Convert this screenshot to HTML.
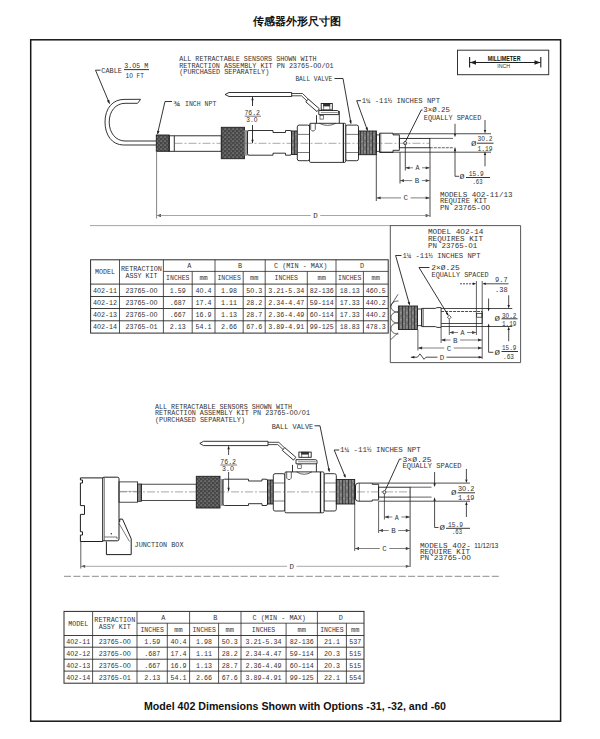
<!DOCTYPE html>
<html><head><meta charset="utf-8"><style>
html,body{margin:0;padding:0;background:#fff;width:600px;height:739px;overflow:hidden}
svg{display:block}
</style></head><body>
<svg width="600" height="739" viewBox="0 0 600 739" font-family="Liberation Sans" shape-rendering="geometricPrecision">
<defs>
<pattern id="kn" width="4" height="4" patternUnits="userSpaceOnUse"><rect width="4" height="4" fill="#454545"/><rect x="0.5" y="0.5" width="1.2" height="1.2" fill="#a0a0a0"/><rect x="2.5" y="2.5" width="1.2" height="1.2" fill="#8a8a8a"/><rect x="2.5" y="0.5" width="1" height="1" fill="#5a5a5a"/></pattern>
<pattern id="th" width="6" height="7" patternUnits="userSpaceOnUse"><rect width="6" height="7" fill="#7c7c7c"/><rect x="0" width="1.1" height="7" fill="#3a3a3a"/><rect x="3" width="0.8" height="7" fill="#484848"/><rect x="1.6" y="1" width="0.8" height="1.2" fill="#b0b0b0"/><rect x="4.4" y="4" width="0.8" height="1.4" fill="#a8a8a8"/><rect x="4.8" y="0" width="0.6" height="2" fill="#505050"/></pattern>
</defs>
<text x="296.7" y="24.6" font-size="11.2" font-weight="bold" text-anchor="middle" fill="#111" font-family="Liberation Serif">传感器外形尺寸图</text>
<rect x="30.7" y="39.8" width="529.9" height="681.4" fill="none" stroke="#161616" stroke-width="1.5"/>
<rect x="457.5" y="50.2" width="91.2" height="24.5" fill="none" stroke="#333" stroke-width="1.0"/>
<line x1="469.6" y1="57" x2="469.6" y2="67.5" stroke="#1e1e1e" stroke-width="1.1" />
<line x1="540.8" y1="57" x2="540.8" y2="67.5" stroke="#1e1e1e" stroke-width="1.1" />
<line x1="470" y1="62.5" x2="540.5" y2="62.5" stroke="#1e1e1e" stroke-width="1.0" />
<polygon points="470,62.5 476.0,60.3 476.0,64.7" fill="#1e1e1e" stroke="none" stroke-width="0.9"/>
<polygon points="540.5,62.5 534.5,64.7 534.5,60.3" fill="#1e1e1e" stroke="none" stroke-width="0.9"/>
<text x="487.8" y="60.50" font-size="6.36" fill="#111" font-family="Liberation Sans" font-weight="bold" textLength="32.70" lengthAdjust="spacingAndGlyphs">MILLIMETER</text>
<text x="497.2" y="67.80" font-size="6.06" fill="#333" font-family="Liberation Sans" font-weight="normal" textLength="12.80" lengthAdjust="spacingAndGlyphs">INCH</text>
<text x="144" y="710" font-size="10.62" font-weight="bold" fill="#111" font-family="Liberation Sans" textLength="302" lengthAdjust="spacingAndGlyphs">Model 402 Dimensions Shown with Options -31, -32, and -60</text>
<text x="179.2" y="61.20" font-size="7.58" fill="#333" font-family="Liberation Mono" font-weight="normal" textLength="137.40" lengthAdjust="spacingAndGlyphs">ALL RETRACTABLE SENSORS SHOWN WITH</text>
<text x="179.2" y="67.70" font-size="7.58" fill="#333" font-family="Liberation Mono" font-weight="normal" textLength="154.40" lengthAdjust="spacingAndGlyphs">RETRACTION ASSEMBLY KIT PN 23765-OO/O1</text>
<text x="179.2" y="74.40" font-size="7.58" fill="#333" font-family="Liberation Mono" font-weight="normal" textLength="90.10" lengthAdjust="spacingAndGlyphs">(PURCHASED SEPARATELY)</text>
<text x="295.4" y="81.40" font-size="7.58" fill="#333" font-family="Liberation Mono" font-weight="normal" textLength="36.80" lengthAdjust="spacingAndGlyphs">BALL VALVE</text>
<polyline points="334.5,78.5 343,78.5 351,123.5" fill="none" stroke="#1e1e1e" stroke-width="0.9" />
<polygon points="351,124 349.2,120.77 351.56,120.34" fill="#1e1e1e" stroke="none" stroke-width="0.9"/>
<text x="101.3" y="73.30" font-size="7.58" fill="#333" font-family="Liberation Mono" font-weight="normal" textLength="20.70" lengthAdjust="spacingAndGlyphs">CABLE</text>
<text x="124.3" y="68.10" font-size="7.58" fill="#333" font-family="Liberation Mono" font-weight="normal" textLength="24.00" lengthAdjust="spacingAndGlyphs">3.O5 M</text>
<line x1="124" y1="69.6" x2="149" y2="69.6" stroke="#1e1e1e" stroke-width="0.9" />
<text x="125.5" y="78.40" font-size="7.58" fill="#333" font-family="Liberation Mono" font-weight="normal" textLength="18.30" lengthAdjust="spacingAndGlyphs">1O FT</text>
<polyline points="100.5,70.2 95.5,70.2 109.5,103.5" fill="none" stroke="#1e1e1e" stroke-width="0.9" />
<polygon points="109.6,104 106.91,100.77 109.32,99.8" fill="#1e1e1e" stroke="none" stroke-width="0.9"/>
<path d="M156.5,145 L123.5,145 C112,145 105,135 105,122 C105,108 113,99.4 124,99.4 L140.5,99.3 L139,101.5 L137.5,103.3 L125,103.3 C116,103.3 109.2,111 109.2,122 C109.2,133 116,141 125,141 L156.5,141" fill="none" stroke="#1e1e1e" stroke-width="0.9" />
<text x="173.8" y="105.50" font-size="7.58" fill="#333" font-family="Liberation Mono" font-weight="normal" textLength="6.20" lengthAdjust="spacingAndGlyphs">¾</text>
<text x="185" y="105.50" font-size="7.58" fill="#333" font-family="Liberation Mono" font-weight="normal" textLength="31.30" lengthAdjust="spacingAndGlyphs">INCH NPT</text>
<polyline points="172,101.5 165,101.5 157.5,133.8" fill="none" stroke="#1e1e1e" stroke-width="0.9" />
<polygon points="157.6,134.5 157.22,130.82 159.55,131.36" fill="#1e1e1e" stroke="none" stroke-width="0.9"/>
<rect x="156.3" y="135" width="12.9" height="16.3" fill="url(#kn)" stroke="#1e1e1e" stroke-width="0.9"/>
<rect x="169.2" y="135.8" width="52.1" height="15.5" fill="none" stroke="#1e1e1e" stroke-width="0.9"/>
<line x1="174.3" y1="135.8" x2="174.3" y2="151.3" stroke="#1e1e1e" stroke-width="0.9" />
<rect x="221.3" y="127.3" width="23.2" height="31.4" fill="url(#kn)" stroke="#1e1e1e" stroke-width="0.9"/>
<rect x="244.5" y="130.5" width="3.0" height="24.7" fill="#9a9a9a" stroke="#777" stroke-width="0.5"/>
<path d="M247.5,132 Q247.5,130.5 249,130.5 L273,130.5 L273,132.5 L285.5,132.5 L285.5,130.5 L290,130.5 Q291.5,130.5 291.5,132 L291.5,153.7 Q291.5,155.2 290,155.2 L285.5,155.2 L285.5,153.2 L273,153.2 L273,155.2 L249,155.2 Q247.5,155.2 247.5,153.7 Z" fill="none" stroke="#1e1e1e" stroke-width="0.9" />
<rect x="291.5" y="131" width="6.3" height="23.5" fill="url(#th)" stroke="#1e1e1e" stroke-width="0.9"/>
<rect x="297.3" y="125.1" width="12.20" height="35.60" rx="1.8" fill="#fff" stroke="#1e1e1e" stroke-width="0.9"/>
<rect x="345.7" y="125.1" width="12.80" height="35.60" rx="1.8" fill="#fff" stroke="#1e1e1e" stroke-width="0.9"/>
<line x1="297.8" y1="134.4" x2="309.5" y2="134.4" stroke="#1e1e1e" stroke-width="0.6" />
<line x1="297.8" y1="152.5" x2="309.5" y2="152.5" stroke="#1e1e1e" stroke-width="0.6" />
<line x1="345.7" y1="134.4" x2="358.0" y2="134.4" stroke="#1e1e1e" stroke-width="0.6" />
<line x1="345.7" y1="152.5" x2="358.0" y2="152.5" stroke="#1e1e1e" stroke-width="0.6" />
<rect x="309.5" y="123.3" width="36.20" height="39.10" rx="1.2" fill="#fff" stroke="#1e1e1e" stroke-width="0.9"/>
<line x1="343.4" y1="123.3" x2="343.4" y2="162.4" stroke="#1e1e1e" stroke-width="1.3" />
<path d="M310.7,123.3 L310.7,129.5 Q313.0,132.7 315.3,129.5 L315.3,123.3" fill="none" stroke="#1e1e1e" stroke-width="0.7" />
<path d="M319.4,123.3 Q327.6,127.5 335.8,123.3" fill="none" stroke="#1e1e1e" stroke-width="0.7" />
<line x1="316.5" y1="115.2" x2="316.5" y2="123.3" stroke="#1e1e1e" stroke-width="0.9" />
<line x1="339.3" y1="111" x2="339.3" y2="123.3" stroke="#1e1e1e" stroke-width="0.9" />
<path d="M318.8,114.6 L318.8,110.5 L337.2,110.5 Q338.7,110.5 338.7,112.0 L338.7,114.6 Z" fill="none" stroke="#1e1e1e" stroke-width="0.9" />
<line x1="320.8" y1="112.55" x2="337.7" y2="112.55" stroke="#1e1e1e" stroke-width="0.5" />
<rect x="321.2" y="103.5" width="11.1" height="6.4" fill="none" stroke="#1e1e1e" stroke-width="0.9"/>
<line x1="323.6666666666667" y1="103.5" x2="323.6666666666667" y2="109.9" stroke="#1e1e1e" stroke-width="0.6" />
<line x1="329.8333333333333" y1="103.5" x2="329.8333333333333" y2="109.9" stroke="#1e1e1e" stroke-width="0.6" />
<rect x="323.6666666666667" y="103.5" width="6.17" height="2.56" fill="#333" stroke="#1e1e1e" stroke-width="0.5"/>
<rect x="320.0" y="115.6" width="3.5" height="3.5" fill="none" stroke="#1e1e1e" stroke-width="0.6"/>
<rect x="358.5" y="131" width="17.9" height="23.7" fill="url(#th)" stroke="#1e1e1e" stroke-width="0.9"/>
<rect x="376.4" y="134.9" width="3.2" height="16.4" fill="none" stroke="#1e1e1e" stroke-width="0.8"/>
<path d="M379.6,152.4 L379.6,133.2 L393,133.2 L393,134.9 L399.4,134.9 L399.4,150.3 L393,150.3 L393,152.4 Z" fill="none" stroke="#1e1e1e" stroke-width="0.9" />
<line x1="380.8" y1="133.2" x2="380.8" y2="152.4" stroke="#1e1e1e" stroke-width="0.6" />
<rect x="399.4" y="138.4" width="30.4" height="9.35" fill="none" stroke="#1e1e1e" stroke-width="0.9"/>
<line x1="393" y1="133.75" x2="491" y2="133.75" stroke="#1e1e1e" stroke-width="0.8" />
<line x1="379.6" y1="152.2" x2="491" y2="152.2" stroke="#1e1e1e" stroke-width="0.8" />
<line x1="429.8" y1="138.4" x2="453" y2="138.4" stroke="#1e1e1e" stroke-width="0.7" />
<line x1="429.8" y1="147.75" x2="453" y2="147.75" stroke="#1e1e1e" stroke-width="0.7" stroke-dasharray="3,1"/>
<circle cx="405.2" cy="143.1" r="1.6" fill="none" stroke="#1e1e1e" stroke-width="0.8"/>
<line x1="174.5" y1="143.3" x2="429.8" y2="143.3" stroke="#555" stroke-width="0.5" stroke-dasharray="8,2,2,2"/>
<path d="M225,94.5 L229,92.5 L291.7,92.5 L291.7,96.5 L229,96.5 Z" fill="none" stroke="#1e1e1e" stroke-width="0.9" />
<polyline points="291.5,93.5 302.5,93.5 318.5,109" fill="none" stroke="#1e1e1e" stroke-width="0.8" />
<polyline points="291.5,95.8 301.5,95.8 317,110.5" fill="none" stroke="#1e1e1e" stroke-width="0.8" />
<path d="M305.8,101.9 L308.2,99.1 L319.4,108.8 L317,111.6 Z" fill="#fff" stroke="#1e1e1e" stroke-width="0.9" />
<line x1="252.5" y1="97" x2="252.5" y2="106" stroke="#1e1e1e" stroke-width="0.9" />
<polygon points="252.5,96.8 253.7,100.3 251.3,100.3" fill="#1e1e1e" stroke="none" stroke-width="0.9"/>
<text x="244.5" y="114.50" font-size="6.82" fill="#333" font-family="Liberation Mono" font-weight="normal" textLength="15.50" lengthAdjust="spacingAndGlyphs">76.2</text>
<line x1="244.7" y1="116.2" x2="261" y2="116.2" stroke="#444" stroke-width="0.7" />
<text x="246.3" y="121.75" font-size="6.82" fill="#333" font-family="Liberation Mono" font-weight="normal" textLength="11.20" lengthAdjust="spacingAndGlyphs">3.O</text>
<line x1="252.5" y1="125" x2="252.5" y2="143" stroke="#1e1e1e" stroke-width="0.9" />
<polygon points="252.5,143.3 251.3,139.8 253.7,139.8" fill="#1e1e1e" stroke="none" stroke-width="0.9"/>
<text x="361.7" y="103.20" font-size="7.58" fill="#333" font-family="Liberation Mono" font-weight="normal" textLength="78.30" lengthAdjust="spacingAndGlyphs">1¼ -11½ INCHES NPT</text>
<polyline points="361,100.7 356.7,100.7 367.5,130.5" fill="none" stroke="#1e1e1e" stroke-width="0.9" />
<polygon points="367.6,131 365.5,127.95 367.81,127.31" fill="#1e1e1e" stroke="none" stroke-width="0.9"/>
<text x="423.3" y="112.20" font-size="7.58" fill="#333" font-family="Liberation Mono" font-weight="normal" textLength="26.70" lengthAdjust="spacingAndGlyphs">3×Ø.25</text>
<text x="423.8" y="119.50" font-size="7.58" fill="#333" font-family="Liberation Mono" font-weight="normal" textLength="57.50" lengthAdjust="spacingAndGlyphs">EQUALLY SPACED</text>
<polyline points="422.5,110 421.3,110 405.5,141.5" fill="none" stroke="#1e1e1e" stroke-width="0.9" />
<line x1="400" y1="152.2" x2="400" y2="183.5" stroke="#1e1e1e" stroke-width="0.8" />
<line x1="405.3" y1="144.7" x2="405.3" y2="170.5" stroke="#1e1e1e" stroke-width="0.8" />
<line x1="430" y1="147.75" x2="430" y2="217" stroke="#1e1e1e" stroke-width="0.8" />
<line x1="376.3" y1="155" x2="376.3" y2="201" stroke="#1e1e1e" stroke-width="0.8" />
<line x1="156.6" y1="151.3" x2="156.6" y2="218.5" stroke="#666" stroke-width="0.8" />
<polygon points="405.5,167.8 409.5,166.4 409.5,169.2" fill="#1e1e1e" stroke="none" stroke-width="0.9"/>
<polygon points="429.7,167.8 425.7,169.2 425.7,166.4" fill="#1e1e1e" stroke="none" stroke-width="0.9"/>
<line x1="405.5" y1="167.8" x2="413.0" y2="167.8" stroke="#555" stroke-width="0.75" />
<line x1="422.0" y1="167.8" x2="429.7" y2="167.8" stroke="#555" stroke-width="0.75" />
<text x="415.5" y="170.30" font-size="7.58" fill="#333" font-family="Liberation Mono" font-weight="normal" textLength="4.00" lengthAdjust="spacingAndGlyphs">A</text>
<polygon points="400,180.6 404.0,179.2 404.0,182.0" fill="#1e1e1e" stroke="none" stroke-width="0.9"/>
<polygon points="429.7,180.6 425.7,182.0 425.7,179.2" fill="#1e1e1e" stroke="none" stroke-width="0.9"/>
<line x1="400" y1="180.6" x2="412.25" y2="180.6" stroke="#555" stroke-width="0.75" />
<line x1="421.75" y1="180.6" x2="429.7" y2="180.6" stroke="#555" stroke-width="0.75" />
<text x="414.75" y="183.10" font-size="7.58" fill="#333" font-family="Liberation Mono" font-weight="normal" textLength="4.50" lengthAdjust="spacingAndGlyphs">B</text>
<polygon points="376.6,197.9 380.6,196.5 380.6,199.3" fill="#1e1e1e" stroke="none" stroke-width="0.9"/>
<polygon points="429.7,197.9 425.7,199.3 425.7,196.5" fill="#1e1e1e" stroke="none" stroke-width="0.9"/>
<line x1="376.6" y1="197.9" x2="401.05" y2="197.9" stroke="#555" stroke-width="0.75" />
<line x1="410.55" y1="197.9" x2="429.7" y2="197.9" stroke="#555" stroke-width="0.75" />
<text x="403.55" y="200.40" font-size="7.58" fill="#333" font-family="Liberation Mono" font-weight="normal" textLength="4.50" lengthAdjust="spacingAndGlyphs">C</text>
<polygon points="156.9,215.5 160.9,214.1 160.9,216.9" fill="#1e1e1e" stroke="none" stroke-width="0.9"/>
<polygon points="429.7,215.5 425.7,216.9 425.7,214.1" fill="#1e1e1e" stroke="none" stroke-width="0.9"/>
<line x1="156.9" y1="215.5" x2="310.75" y2="215.5" stroke="#8a8a8a" stroke-width="0.75" />
<line x1="320.25" y1="215.5" x2="429.7" y2="215.5" stroke="#8a8a8a" stroke-width="0.75" />
<text x="313.25" y="218.00" font-size="7.58" fill="#333" font-family="Liberation Mono" font-weight="normal" textLength="4.50" lengthAdjust="spacingAndGlyphs">D</text>
<line x1="455" y1="123.8" x2="455" y2="133.5" stroke="#1e1e1e" stroke-width="0.8" />
<polygon points="455,137.3 453.8,133.8 456.2,133.8" fill="#1e1e1e" stroke="none" stroke-width="0.9"/>
<line x1="455" y1="147.5" x2="455" y2="176.3" stroke="#1e1e1e" stroke-width="0.8" />
<polygon points="455,147.7 456.2,151.2 453.8,151.2" fill="#1e1e1e" stroke="none" stroke-width="0.9"/>
<line x1="455" y1="176.3" x2="459" y2="176.3" stroke="#1e1e1e" stroke-width="0.8" />
<text x="459.5" y="178.55" font-size="6.82" fill="#333" font-family="Liberation Mono" font-weight="normal" textLength="5.00" lengthAdjust="spacingAndGlyphs">Ø</text>
<text x="468.8" y="176.30" font-size="7.58" fill="#333" font-family="Liberation Mono" font-weight="normal" textLength="15.00" lengthAdjust="spacingAndGlyphs">15.9</text>
<line x1="466" y1="177.5" x2="490" y2="177.5" stroke="#1e1e1e" stroke-width="0.9" />
<text x="472.5" y="183.80" font-size="7.58" fill="#333" font-family="Liberation Mono" font-weight="normal" textLength="10.00" lengthAdjust="spacingAndGlyphs">.63</text>
<line x1="485" y1="120" x2="485" y2="130.5" stroke="#1e1e1e" stroke-width="0.8" />
<polygon points="485,133.6 483.8,130.1 486.2,130.1" fill="#1e1e1e" stroke="none" stroke-width="0.9"/>
<line x1="485" y1="154.5" x2="485" y2="166.3" stroke="#1e1e1e" stroke-width="0.8" />
<polygon points="485,151.5 486.2,155.0 483.8,155.0" fill="#1e1e1e" stroke="none" stroke-width="0.9"/>
<text x="471" y="146.05" font-size="6.82" fill="#333" font-family="Liberation Mono" font-weight="normal" textLength="5.50" lengthAdjust="spacingAndGlyphs">Ø</text>
<text x="477.5" y="141.30" font-size="7.58" fill="#333" font-family="Liberation Mono" font-weight="normal" textLength="15.00" lengthAdjust="spacingAndGlyphs">3O.2</text>
<line x1="477" y1="143.2" x2="493.5" y2="143.2" stroke="#1e1e1e" stroke-width="0.9" />
<text x="477.5" y="151.30" font-size="7.58" fill="#333" font-family="Liberation Mono" font-weight="normal" textLength="15.00" lengthAdjust="spacingAndGlyphs">1.19</text>
<text x="440" y="196.80" font-size="7.58" fill="#333" font-family="Liberation Mono" font-weight="normal" textLength="72.50" lengthAdjust="spacingAndGlyphs">MODELS 4O2-11/13</text>
<text x="440" y="203.20" font-size="7.58" fill="#333" font-family="Liberation Mono" font-weight="normal" textLength="47.00" lengthAdjust="spacingAndGlyphs">REQUIRE KIT</text>
<text x="440" y="209.80" font-size="7.58" fill="#333" font-family="Liberation Mono" font-weight="normal" textLength="50.00" lengthAdjust="spacingAndGlyphs">PN 23765-OO</text>
<line x1="90" y1="225.6" x2="390" y2="225.6" stroke="#9a9a9a" stroke-width="0.9" />
<rect x="90.6" y="259.8" width="297.6" height="73.3" fill="none" stroke="#2a2a2a" stroke-width="1.0"/>
<line x1="163.4" y1="271.4" x2="388.2" y2="271.4" stroke="#2a2a2a" stroke-width="0.8" />
<line x1="90.6" y1="284.1" x2="388.2" y2="284.1" stroke="#2a2a2a" stroke-width="0.9" />
<line x1="90.6" y1="296.5" x2="388.2" y2="296.5" stroke="#2a2a2a" stroke-width="0.9" />
<line x1="90.6" y1="308.5" x2="388.2" y2="308.5" stroke="#2a2a2a" stroke-width="0.9" />
<line x1="90.6" y1="320.8" x2="388.2" y2="320.8" stroke="#2a2a2a" stroke-width="0.9" />
<line x1="119.5" y1="259.8" x2="119.5" y2="333.1" stroke="#2a2a2a" stroke-width="0.8" />
<line x1="163.4" y1="259.8" x2="163.4" y2="333.1" stroke="#2a2a2a" stroke-width="0.8" />
<line x1="192.2" y1="271.4" x2="192.2" y2="333.1" stroke="#2a2a2a" stroke-width="0.8" />
<line x1="215.0" y1="259.8" x2="215.0" y2="333.1" stroke="#2a2a2a" stroke-width="0.8" />
<line x1="243.2" y1="271.4" x2="243.2" y2="333.1" stroke="#2a2a2a" stroke-width="0.8" />
<line x1="265.2" y1="259.8" x2="265.2" y2="333.1" stroke="#2a2a2a" stroke-width="0.8" />
<line x1="307.3" y1="271.4" x2="307.3" y2="333.1" stroke="#2a2a2a" stroke-width="0.8" />
<line x1="336.0" y1="259.8" x2="336.0" y2="333.1" stroke="#2a2a2a" stroke-width="0.8" />
<line x1="363.4" y1="271.4" x2="363.4" y2="333.1" stroke="#2a2a2a" stroke-width="0.8" />
<text x="95.05" y="274.35" font-size="7.27" fill="#333" font-family="Liberation Mono" font-weight="normal" textLength="20.00" lengthAdjust="spacingAndGlyphs">MODEL</text>
<text x="120.95" y="270.95" font-size="7.27" fill="#333" font-family="Liberation Mono" font-weight="normal" textLength="41.00" lengthAdjust="spacingAndGlyphs">RETRACTION</text>
<text x="125.45" y="277.75" font-size="7.27" fill="#333" font-family="Liberation Mono" font-weight="normal" textLength="32.00" lengthAdjust="spacingAndGlyphs">ASSY KIT</text>
<text x="187.15" y="268.00" font-size="7.27" fill="#333" font-family="Liberation Mono" font-weight="normal" textLength="4.10" lengthAdjust="spacingAndGlyphs">A</text>
<text x="166.1" y="280.15" font-size="7.27" fill="#333" font-family="Liberation Mono" font-weight="normal" textLength="23.40" lengthAdjust="spacingAndGlyphs">INCHES</text>
<text x="199.4" y="280.15" font-size="7.27" fill="#333" font-family="Liberation Mono" font-weight="normal" textLength="8.40" lengthAdjust="spacingAndGlyphs">mm</text>
<text x="238.05" y="268.00" font-size="7.27" fill="#333" font-family="Liberation Mono" font-weight="normal" textLength="4.10" lengthAdjust="spacingAndGlyphs">B</text>
<text x="217.4" y="280.15" font-size="7.27" fill="#333" font-family="Liberation Mono" font-weight="normal" textLength="23.40" lengthAdjust="spacingAndGlyphs">INCHES</text>
<text x="250.0" y="280.15" font-size="7.27" fill="#333" font-family="Liberation Mono" font-weight="normal" textLength="8.40" lengthAdjust="spacingAndGlyphs">mm</text>
<text x="273.95" y="268.00" font-size="7.27" fill="#333" font-family="Liberation Mono" font-weight="normal" textLength="53.30" lengthAdjust="spacingAndGlyphs">C (MIN - MAX)</text>
<text x="274.55" y="280.15" font-size="7.27" fill="#333" font-family="Liberation Mono" font-weight="normal" textLength="23.40" lengthAdjust="spacingAndGlyphs">INCHES</text>
<text x="317.45" y="280.15" font-size="7.27" fill="#333" font-family="Liberation Mono" font-weight="normal" textLength="8.40" lengthAdjust="spacingAndGlyphs">mm</text>
<text x="360.05" y="268.00" font-size="7.27" fill="#333" font-family="Liberation Mono" font-weight="normal" textLength="4.10" lengthAdjust="spacingAndGlyphs">D</text>
<text x="338.0" y="280.15" font-size="7.27" fill="#333" font-family="Liberation Mono" font-weight="normal" textLength="23.40" lengthAdjust="spacingAndGlyphs">INCHES</text>
<text x="371.6" y="280.15" font-size="7.27" fill="#333" font-family="Liberation Mono" font-weight="normal" textLength="8.40" lengthAdjust="spacingAndGlyphs">mm</text>
<text x="93.05" y="292.70" font-size="7.27" fill="#333" font-family="Liberation Mono" font-weight="normal" textLength="24.00" lengthAdjust="spacingAndGlyphs">4O2-11</text>
<text x="125.45" y="292.70" font-size="7.27" fill="#333" font-family="Liberation Mono" font-weight="normal" textLength="32.00" lengthAdjust="spacingAndGlyphs">23765-OO</text>
<text x="169.8" y="292.70" font-size="7.27" fill="#333" font-family="Liberation Mono" font-weight="normal" textLength="16.00" lengthAdjust="spacingAndGlyphs">1.59</text>
<text x="195.6" y="292.70" font-size="7.27" fill="#333" font-family="Liberation Mono" font-weight="normal" textLength="16.00" lengthAdjust="spacingAndGlyphs">4O.4</text>
<text x="221.1" y="292.70" font-size="7.27" fill="#333" font-family="Liberation Mono" font-weight="normal" textLength="16.00" lengthAdjust="spacingAndGlyphs">1.98</text>
<text x="246.2" y="292.70" font-size="7.27" fill="#333" font-family="Liberation Mono" font-weight="normal" textLength="16.00" lengthAdjust="spacingAndGlyphs">5O.3</text>
<text x="268.25" y="292.70" font-size="7.27" fill="#333" font-family="Liberation Mono" font-weight="normal" textLength="36.00" lengthAdjust="spacingAndGlyphs">3.21-5.34</text>
<text x="309.65" y="292.70" font-size="7.27" fill="#333" font-family="Liberation Mono" font-weight="normal" textLength="24.00" lengthAdjust="spacingAndGlyphs">82-136</text>
<text x="339.7" y="292.70" font-size="7.27" fill="#333" font-family="Liberation Mono" font-weight="normal" textLength="20.00" lengthAdjust="spacingAndGlyphs">18.13</text>
<text x="365.8" y="292.70" font-size="7.27" fill="#333" font-family="Liberation Mono" font-weight="normal" textLength="20.00" lengthAdjust="spacingAndGlyphs">46O.5</text>
<text x="93.05" y="304.90" font-size="7.27" fill="#333" font-family="Liberation Mono" font-weight="normal" textLength="24.00" lengthAdjust="spacingAndGlyphs">4O2-12</text>
<text x="125.45" y="304.90" font-size="7.27" fill="#333" font-family="Liberation Mono" font-weight="normal" textLength="32.00" lengthAdjust="spacingAndGlyphs">23765-OO</text>
<text x="169.8" y="304.90" font-size="7.27" fill="#333" font-family="Liberation Mono" font-weight="normal" textLength="16.00" lengthAdjust="spacingAndGlyphs">.687</text>
<text x="195.6" y="304.90" font-size="7.27" fill="#333" font-family="Liberation Mono" font-weight="normal" textLength="16.00" lengthAdjust="spacingAndGlyphs">17.4</text>
<text x="221.1" y="304.90" font-size="7.27" fill="#333" font-family="Liberation Mono" font-weight="normal" textLength="16.00" lengthAdjust="spacingAndGlyphs">1.11</text>
<text x="246.2" y="304.90" font-size="7.27" fill="#333" font-family="Liberation Mono" font-weight="normal" textLength="16.00" lengthAdjust="spacingAndGlyphs">28.2</text>
<text x="268.25" y="304.90" font-size="7.27" fill="#333" font-family="Liberation Mono" font-weight="normal" textLength="36.00" lengthAdjust="spacingAndGlyphs">2.34-4.47</text>
<text x="309.65" y="304.90" font-size="7.27" fill="#333" font-family="Liberation Mono" font-weight="normal" textLength="24.00" lengthAdjust="spacingAndGlyphs">59-114</text>
<text x="339.7" y="304.90" font-size="7.27" fill="#333" font-family="Liberation Mono" font-weight="normal" textLength="20.00" lengthAdjust="spacingAndGlyphs">17.33</text>
<text x="365.8" y="304.90" font-size="7.27" fill="#333" font-family="Liberation Mono" font-weight="normal" textLength="20.00" lengthAdjust="spacingAndGlyphs">44O.2</text>
<text x="93.05" y="317.05" font-size="7.27" fill="#333" font-family="Liberation Mono" font-weight="normal" textLength="24.00" lengthAdjust="spacingAndGlyphs">4O2-13</text>
<text x="125.45" y="317.05" font-size="7.27" fill="#333" font-family="Liberation Mono" font-weight="normal" textLength="32.00" lengthAdjust="spacingAndGlyphs">23765-OO</text>
<text x="169.8" y="317.05" font-size="7.27" fill="#333" font-family="Liberation Mono" font-weight="normal" textLength="16.00" lengthAdjust="spacingAndGlyphs">.667</text>
<text x="195.6" y="317.05" font-size="7.27" fill="#333" font-family="Liberation Mono" font-weight="normal" textLength="16.00" lengthAdjust="spacingAndGlyphs">16.9</text>
<text x="221.1" y="317.05" font-size="7.27" fill="#333" font-family="Liberation Mono" font-weight="normal" textLength="16.00" lengthAdjust="spacingAndGlyphs">1.13</text>
<text x="246.2" y="317.05" font-size="7.27" fill="#333" font-family="Liberation Mono" font-weight="normal" textLength="16.00" lengthAdjust="spacingAndGlyphs">28.7</text>
<text x="268.25" y="317.05" font-size="7.27" fill="#333" font-family="Liberation Mono" font-weight="normal" textLength="36.00" lengthAdjust="spacingAndGlyphs">2.36-4.49</text>
<text x="309.65" y="317.05" font-size="7.27" fill="#333" font-family="Liberation Mono" font-weight="normal" textLength="24.00" lengthAdjust="spacingAndGlyphs">6O-114</text>
<text x="339.7" y="317.05" font-size="7.27" fill="#333" font-family="Liberation Mono" font-weight="normal" textLength="20.00" lengthAdjust="spacingAndGlyphs">17.33</text>
<text x="365.8" y="317.05" font-size="7.27" fill="#333" font-family="Liberation Mono" font-weight="normal" textLength="20.00" lengthAdjust="spacingAndGlyphs">44O.2</text>
<text x="93.05" y="329.35" font-size="7.27" fill="#333" font-family="Liberation Mono" font-weight="normal" textLength="24.00" lengthAdjust="spacingAndGlyphs">4O2-14</text>
<text x="125.45" y="329.35" font-size="7.27" fill="#333" font-family="Liberation Mono" font-weight="normal" textLength="32.00" lengthAdjust="spacingAndGlyphs">23765-O1</text>
<text x="169.8" y="329.35" font-size="7.27" fill="#333" font-family="Liberation Mono" font-weight="normal" textLength="16.00" lengthAdjust="spacingAndGlyphs">2.13</text>
<text x="195.6" y="329.35" font-size="7.27" fill="#333" font-family="Liberation Mono" font-weight="normal" textLength="16.00" lengthAdjust="spacingAndGlyphs">54.1</text>
<text x="221.1" y="329.35" font-size="7.27" fill="#333" font-family="Liberation Mono" font-weight="normal" textLength="16.00" lengthAdjust="spacingAndGlyphs">2.66</text>
<text x="246.2" y="329.35" font-size="7.27" fill="#333" font-family="Liberation Mono" font-weight="normal" textLength="16.00" lengthAdjust="spacingAndGlyphs">67.6</text>
<text x="268.25" y="329.35" font-size="7.27" fill="#333" font-family="Liberation Mono" font-weight="normal" textLength="36.00" lengthAdjust="spacingAndGlyphs">3.89-4.91</text>
<text x="309.65" y="329.35" font-size="7.27" fill="#333" font-family="Liberation Mono" font-weight="normal" textLength="24.00" lengthAdjust="spacingAndGlyphs">99-125</text>
<text x="339.7" y="329.35" font-size="7.27" fill="#333" font-family="Liberation Mono" font-weight="normal" textLength="20.00" lengthAdjust="spacingAndGlyphs">18.83</text>
<text x="365.8" y="329.35" font-size="7.27" fill="#333" font-family="Liberation Mono" font-weight="normal" textLength="20.00" lengthAdjust="spacingAndGlyphs">478.3</text>
<rect x="64.0" y="611.4" width="300.0" height="71.8" fill="none" stroke="#2a2a2a" stroke-width="1.0"/>
<line x1="137.0" y1="623.2" x2="364.0" y2="623.2" stroke="#2a2a2a" stroke-width="0.8" />
<line x1="64.0" y1="635.5" x2="364.0" y2="635.5" stroke="#2a2a2a" stroke-width="0.9" />
<line x1="64.0" y1="647.2" x2="364.0" y2="647.2" stroke="#2a2a2a" stroke-width="0.9" />
<line x1="64.0" y1="659.2" x2="364.0" y2="659.2" stroke="#2a2a2a" stroke-width="0.9" />
<line x1="64.0" y1="671.1" x2="364.0" y2="671.1" stroke="#2a2a2a" stroke-width="0.9" />
<line x1="92.6" y1="611.4" x2="92.6" y2="683.2" stroke="#2a2a2a" stroke-width="0.8" />
<line x1="137.0" y1="611.4" x2="137.0" y2="683.2" stroke="#2a2a2a" stroke-width="0.8" />
<line x1="167.3" y1="623.2" x2="167.3" y2="683.2" stroke="#2a2a2a" stroke-width="0.8" />
<line x1="189.6" y1="611.4" x2="189.6" y2="683.2" stroke="#2a2a2a" stroke-width="0.8" />
<line x1="218.6" y1="623.2" x2="218.6" y2="683.2" stroke="#2a2a2a" stroke-width="0.8" />
<line x1="241.0" y1="611.4" x2="241.0" y2="683.2" stroke="#2a2a2a" stroke-width="0.8" />
<line x1="286.1" y1="623.2" x2="286.1" y2="683.2" stroke="#2a2a2a" stroke-width="0.8" />
<line x1="317.4" y1="611.4" x2="317.4" y2="683.2" stroke="#2a2a2a" stroke-width="0.8" />
<line x1="346.4" y1="623.2" x2="346.4" y2="683.2" stroke="#2a2a2a" stroke-width="0.8" />
<text x="68.3" y="625.85" font-size="7.27" fill="#333" font-family="Liberation Mono" font-weight="normal" textLength="20.00" lengthAdjust="spacingAndGlyphs">MODEL</text>
<text x="94.3" y="622.45" font-size="7.27" fill="#333" font-family="Liberation Mono" font-weight="normal" textLength="41.00" lengthAdjust="spacingAndGlyphs">RETRACTION</text>
<text x="98.8" y="629.25" font-size="7.27" fill="#333" font-family="Liberation Mono" font-weight="normal" textLength="32.00" lengthAdjust="spacingAndGlyphs">ASSY KIT</text>
<text x="161.25" y="619.70" font-size="7.27" fill="#333" font-family="Liberation Mono" font-weight="normal" textLength="4.10" lengthAdjust="spacingAndGlyphs">A</text>
<text x="140.45" y="631.75" font-size="7.27" fill="#333" font-family="Liberation Mono" font-weight="normal" textLength="23.40" lengthAdjust="spacingAndGlyphs">INCHES</text>
<text x="174.25" y="631.75" font-size="7.27" fill="#333" font-family="Liberation Mono" font-weight="normal" textLength="8.40" lengthAdjust="spacingAndGlyphs">mm</text>
<text x="213.25" y="619.70" font-size="7.27" fill="#333" font-family="Liberation Mono" font-weight="normal" textLength="4.10" lengthAdjust="spacingAndGlyphs">B</text>
<text x="192.4" y="631.75" font-size="7.27" fill="#333" font-family="Liberation Mono" font-weight="normal" textLength="23.40" lengthAdjust="spacingAndGlyphs">INCHES</text>
<text x="225.6" y="631.75" font-size="7.27" fill="#333" font-family="Liberation Mono" font-weight="normal" textLength="8.40" lengthAdjust="spacingAndGlyphs">mm</text>
<text x="252.55" y="619.70" font-size="7.27" fill="#333" font-family="Liberation Mono" font-weight="normal" textLength="53.30" lengthAdjust="spacingAndGlyphs">C (MIN - MAX)</text>
<text x="251.85" y="631.75" font-size="7.27" fill="#333" font-family="Liberation Mono" font-weight="normal" textLength="23.40" lengthAdjust="spacingAndGlyphs">INCHES</text>
<text x="297.55" y="631.75" font-size="7.27" fill="#333" font-family="Liberation Mono" font-weight="normal" textLength="8.40" lengthAdjust="spacingAndGlyphs">mm</text>
<text x="338.65" y="619.70" font-size="7.27" fill="#333" font-family="Liberation Mono" font-weight="normal" textLength="4.10" lengthAdjust="spacingAndGlyphs">D</text>
<text x="320.2" y="631.75" font-size="7.27" fill="#333" font-family="Liberation Mono" font-weight="normal" textLength="23.40" lengthAdjust="spacingAndGlyphs">INCHES</text>
<text x="351.0" y="631.75" font-size="7.27" fill="#333" font-family="Liberation Mono" font-weight="normal" textLength="8.40" lengthAdjust="spacingAndGlyphs">mm</text>
<text x="66.3" y="643.75" font-size="7.27" fill="#333" font-family="Liberation Mono" font-weight="normal" textLength="24.00" lengthAdjust="spacingAndGlyphs">4O2-11</text>
<text x="98.8" y="643.75" font-size="7.27" fill="#333" font-family="Liberation Mono" font-weight="normal" textLength="32.00" lengthAdjust="spacingAndGlyphs">23765-OO</text>
<text x="144.15" y="643.75" font-size="7.27" fill="#333" font-family="Liberation Mono" font-weight="normal" textLength="16.00" lengthAdjust="spacingAndGlyphs">1.59</text>
<text x="170.45" y="643.75" font-size="7.27" fill="#333" font-family="Liberation Mono" font-weight="normal" textLength="16.00" lengthAdjust="spacingAndGlyphs">4O.4</text>
<text x="196.1" y="643.75" font-size="7.27" fill="#333" font-family="Liberation Mono" font-weight="normal" textLength="16.00" lengthAdjust="spacingAndGlyphs">1.98</text>
<text x="221.8" y="643.75" font-size="7.27" fill="#333" font-family="Liberation Mono" font-weight="normal" textLength="16.00" lengthAdjust="spacingAndGlyphs">5O.3</text>
<text x="245.55" y="643.75" font-size="7.27" fill="#333" font-family="Liberation Mono" font-weight="normal" textLength="36.00" lengthAdjust="spacingAndGlyphs">3.21-5.34</text>
<text x="289.75" y="643.75" font-size="7.27" fill="#333" font-family="Liberation Mono" font-weight="normal" textLength="24.00" lengthAdjust="spacingAndGlyphs">82-136</text>
<text x="323.9" y="643.75" font-size="7.27" fill="#333" font-family="Liberation Mono" font-weight="normal" textLength="16.00" lengthAdjust="spacingAndGlyphs">21.1</text>
<text x="349.2" y="643.75" font-size="7.27" fill="#333" font-family="Liberation Mono" font-weight="normal" textLength="12.00" lengthAdjust="spacingAndGlyphs">537</text>
<text x="66.3" y="655.60" font-size="7.27" fill="#333" font-family="Liberation Mono" font-weight="normal" textLength="24.00" lengthAdjust="spacingAndGlyphs">4O2-12</text>
<text x="98.8" y="655.60" font-size="7.27" fill="#333" font-family="Liberation Mono" font-weight="normal" textLength="32.00" lengthAdjust="spacingAndGlyphs">23765-OO</text>
<text x="144.15" y="655.60" font-size="7.27" fill="#333" font-family="Liberation Mono" font-weight="normal" textLength="16.00" lengthAdjust="spacingAndGlyphs">.687</text>
<text x="170.45" y="655.60" font-size="7.27" fill="#333" font-family="Liberation Mono" font-weight="normal" textLength="16.00" lengthAdjust="spacingAndGlyphs">17.4</text>
<text x="196.1" y="655.60" font-size="7.27" fill="#333" font-family="Liberation Mono" font-weight="normal" textLength="16.00" lengthAdjust="spacingAndGlyphs">1.11</text>
<text x="221.8" y="655.60" font-size="7.27" fill="#333" font-family="Liberation Mono" font-weight="normal" textLength="16.00" lengthAdjust="spacingAndGlyphs">28.2</text>
<text x="245.55" y="655.60" font-size="7.27" fill="#333" font-family="Liberation Mono" font-weight="normal" textLength="36.00" lengthAdjust="spacingAndGlyphs">2.34-4.47</text>
<text x="289.75" y="655.60" font-size="7.27" fill="#333" font-family="Liberation Mono" font-weight="normal" textLength="24.00" lengthAdjust="spacingAndGlyphs">59-114</text>
<text x="323.9" y="655.60" font-size="7.27" fill="#333" font-family="Liberation Mono" font-weight="normal" textLength="16.00" lengthAdjust="spacingAndGlyphs">2O.3</text>
<text x="349.2" y="655.60" font-size="7.27" fill="#333" font-family="Liberation Mono" font-weight="normal" textLength="12.00" lengthAdjust="spacingAndGlyphs">515</text>
<text x="66.3" y="667.55" font-size="7.27" fill="#333" font-family="Liberation Mono" font-weight="normal" textLength="24.00" lengthAdjust="spacingAndGlyphs">4O2-13</text>
<text x="98.8" y="667.55" font-size="7.27" fill="#333" font-family="Liberation Mono" font-weight="normal" textLength="32.00" lengthAdjust="spacingAndGlyphs">23765-OO</text>
<text x="144.15" y="667.55" font-size="7.27" fill="#333" font-family="Liberation Mono" font-weight="normal" textLength="16.00" lengthAdjust="spacingAndGlyphs">.667</text>
<text x="170.45" y="667.55" font-size="7.27" fill="#333" font-family="Liberation Mono" font-weight="normal" textLength="16.00" lengthAdjust="spacingAndGlyphs">16.9</text>
<text x="196.1" y="667.55" font-size="7.27" fill="#333" font-family="Liberation Mono" font-weight="normal" textLength="16.00" lengthAdjust="spacingAndGlyphs">1.13</text>
<text x="221.8" y="667.55" font-size="7.27" fill="#333" font-family="Liberation Mono" font-weight="normal" textLength="16.00" lengthAdjust="spacingAndGlyphs">28.7</text>
<text x="245.55" y="667.55" font-size="7.27" fill="#333" font-family="Liberation Mono" font-weight="normal" textLength="36.00" lengthAdjust="spacingAndGlyphs">2.36-4.49</text>
<text x="289.75" y="667.55" font-size="7.27" fill="#333" font-family="Liberation Mono" font-weight="normal" textLength="24.00" lengthAdjust="spacingAndGlyphs">6O-114</text>
<text x="323.9" y="667.55" font-size="7.27" fill="#333" font-family="Liberation Mono" font-weight="normal" textLength="16.00" lengthAdjust="spacingAndGlyphs">2O.3</text>
<text x="349.2" y="667.55" font-size="7.27" fill="#333" font-family="Liberation Mono" font-weight="normal" textLength="12.00" lengthAdjust="spacingAndGlyphs">515</text>
<text x="66.3" y="679.55" font-size="7.27" fill="#333" font-family="Liberation Mono" font-weight="normal" textLength="24.00" lengthAdjust="spacingAndGlyphs">4O2-14</text>
<text x="98.8" y="679.55" font-size="7.27" fill="#333" font-family="Liberation Mono" font-weight="normal" textLength="32.00" lengthAdjust="spacingAndGlyphs">23765-O1</text>
<text x="144.15" y="679.55" font-size="7.27" fill="#333" font-family="Liberation Mono" font-weight="normal" textLength="16.00" lengthAdjust="spacingAndGlyphs">2.13</text>
<text x="170.45" y="679.55" font-size="7.27" fill="#333" font-family="Liberation Mono" font-weight="normal" textLength="16.00" lengthAdjust="spacingAndGlyphs">54.1</text>
<text x="196.1" y="679.55" font-size="7.27" fill="#333" font-family="Liberation Mono" font-weight="normal" textLength="16.00" lengthAdjust="spacingAndGlyphs">2.66</text>
<text x="221.8" y="679.55" font-size="7.27" fill="#333" font-family="Liberation Mono" font-weight="normal" textLength="16.00" lengthAdjust="spacingAndGlyphs">67.6</text>
<text x="245.55" y="679.55" font-size="7.27" fill="#333" font-family="Liberation Mono" font-weight="normal" textLength="36.00" lengthAdjust="spacingAndGlyphs">3.89-4.91</text>
<text x="289.75" y="679.55" font-size="7.27" fill="#333" font-family="Liberation Mono" font-weight="normal" textLength="24.00" lengthAdjust="spacingAndGlyphs">99-125</text>
<text x="323.9" y="679.55" font-size="7.27" fill="#333" font-family="Liberation Mono" font-weight="normal" textLength="16.00" lengthAdjust="spacingAndGlyphs">22.1</text>
<text x="349.2" y="679.55" font-size="7.27" fill="#333" font-family="Liberation Mono" font-weight="normal" textLength="12.00" lengthAdjust="spacingAndGlyphs">554</text>
<line x1="390.3" y1="225.6" x2="390.3" y2="362.6" stroke="#444" stroke-width="0.9" />
<line x1="520.6" y1="225.6" x2="520.6" y2="362.6" stroke="#444" stroke-width="0.9" />
<line x1="390.3" y1="362.6" x2="520.6" y2="362.6" stroke="#444" stroke-width="0.9" />
<line x1="390" y1="225.6" x2="520.6" y2="225.6" stroke="#444" stroke-width="0.9" />
<text x="428" y="234.00" font-size="7.58" fill="#333" font-family="Liberation Mono" font-weight="normal" textLength="55.50" lengthAdjust="spacingAndGlyphs">MODEL 4O2-14</text>
<text x="428" y="240.70" font-size="7.58" fill="#333" font-family="Liberation Mono" font-weight="normal" textLength="55.00" lengthAdjust="spacingAndGlyphs">REQUIRES KIT</text>
<text x="428" y="247.50" font-size="7.58" fill="#333" font-family="Liberation Mono" font-weight="normal" textLength="49.20" lengthAdjust="spacingAndGlyphs">PN 23765-O1</text>
<text x="402.5" y="257.90" font-size="7.27" fill="#333" font-family="Liberation Mono" font-weight="normal" textLength="78.00" lengthAdjust="spacingAndGlyphs">1¼ -11½ INCHES NPT</text>
<polyline points="401.5,255.5 395.6,255.5 409.5,304.5" fill="none" stroke="#1e1e1e" stroke-width="0.9" />
<polygon points="409.7,305.5 407.63,302.43 409.95,301.81" fill="#1e1e1e" stroke="none" stroke-width="0.9"/>
<text x="431.2" y="270.00" font-size="7.58" fill="#333" font-family="Liberation Mono" font-weight="normal" textLength="28.50" lengthAdjust="spacingAndGlyphs">2×Ø.25</text>
<text x="431.6" y="276.90" font-size="7.58" fill="#333" font-family="Liberation Mono" font-weight="normal" textLength="57.00" lengthAdjust="spacingAndGlyphs">EQUALLY SPACED</text>
<polyline points="429.5,267.5 419,267.5 448,315" fill="none" stroke="#1e1e1e" stroke-width="0.9" />
<polygon points="448.6,316 445.77,313.62 447.83,312.38" fill="#1e1e1e" stroke="none" stroke-width="0.9"/>
<path d="M398,294.3 L390.5,306.2" fill="none" stroke="#1e1e1e" stroke-width="0.7" />
<path d="M398,332.8 L390.5,339.8" fill="none" stroke="#1e1e1e" stroke-width="0.7" />
<path d="M398.5,301 C394,301 391,303 391,306.5 C391,310 394,312 398,312 C394,312 391,314 391,317.5 C391,321 394,323 398,323 C394,323 391,325 391,328.5 C391,332 394,334 398.5,334" fill="none" stroke="#1e1e1e" stroke-width="0.7" />
<rect x="398.4" y="306" width="19.0" height="23.5" fill="url(#th)" stroke="#1e1e1e" stroke-width="0.9"/>
<rect x="417.4" y="309" width="4.3" height="16.7" fill="none" stroke="#1e1e1e" stroke-width="0.8"/>
<path d="M421.7,308.4 L435.5,308.4 L437,307.6 L441.1,307.6 L441.1,327.4 L437,327.4 L435.5,326.6 L421.7,326.6 Z" fill="none" stroke="#1e1e1e" stroke-width="0.9" />
<line x1="423.3" y1="308.4" x2="423.3" y2="326.6" stroke="#1e1e1e" stroke-width="0.6" />
<line x1="441.1" y1="311.5" x2="482.2" y2="311.5" stroke="#1e1e1e" stroke-width="0.8" stroke-dasharray="3,1"/>
<line x1="441.1" y1="323.5" x2="482.2" y2="323.5" stroke="#1e1e1e" stroke-width="0.8" />
<line x1="482.2" y1="311.5" x2="482.2" y2="323.5" stroke="#1e1e1e" stroke-width="0.8" />
<rect x="476.7" y="313.5" width="5.3" height="3.7" fill="none" stroke="#1e1e1e" stroke-width="0.7"/>
<line x1="441.1" y1="308.5" x2="512.3" y2="308.5" stroke="#1e1e1e" stroke-width="0.8" />
<line x1="441.1" y1="326.5" x2="512.3" y2="326.5" stroke="#1e1e1e" stroke-width="0.8" />
<path d="M449.3,315.3 L451.2,317.2 L449.3,319.1 L447.4,317.2 Z" fill="none" stroke="#1e1e1e" stroke-width="0.7" />
<line x1="441.1" y1="327.4" x2="441.1" y2="343" stroke="#1e1e1e" stroke-width="0.7" />
<line x1="449.3" y1="319.1" x2="449.3" y2="335" stroke="#1e1e1e" stroke-width="0.7" />
<line x1="476.4" y1="281" x2="476.4" y2="335" stroke="#1e1e1e" stroke-width="0.7" />
<line x1="482.2" y1="281" x2="482.2" y2="359" stroke="#1e1e1e" stroke-width="0.7" />
<line x1="417.9" y1="329.5" x2="417.9" y2="350.5" stroke="#1e1e1e" stroke-width="0.7" />
<line x1="460" y1="283.8" x2="473" y2="283.8" stroke="#1e1e1e" stroke-width="0.8" stroke-dasharray="2,1"/>
<polygon points="476.3,283.8 472.8,285.0 472.8,282.6" fill="#1e1e1e" stroke="none" stroke-width="0.9"/>
<line x1="485.5" y1="283.8" x2="508.5" y2="283.8" stroke="#1e1e1e" stroke-width="0.8" />
<polygon points="482.3,283.8 485.8,282.6 485.8,285.0" fill="#1e1e1e" stroke="none" stroke-width="0.9"/>
<text x="495" y="282.30" font-size="7.58" fill="#333" font-family="Liberation Mono" font-weight="normal" textLength="12.60" lengthAdjust="spacingAndGlyphs">9.7</text>
<text x="495" y="291.50" font-size="7.58" fill="#333" font-family="Liberation Mono" font-weight="normal" textLength="12.60" lengthAdjust="spacingAndGlyphs">.38</text>
<line x1="508.7" y1="295.3" x2="508.7" y2="305" stroke="#1e1e1e" stroke-width="0.8" />
<polygon points="508.7,308.4 507.5,304.9 509.9,304.9" fill="#1e1e1e" stroke="none" stroke-width="0.9"/>
<line x1="508.7" y1="330" x2="508.7" y2="341.2" stroke="#1e1e1e" stroke-width="0.8" />
<polygon points="508.7,326.6 509.9,330.1 507.5,330.1" fill="#1e1e1e" stroke="none" stroke-width="0.9"/>
<text x="494.5" y="320.70" font-size="7.27" fill="#333" font-family="Liberation Mono" font-weight="normal" textLength="5.50" lengthAdjust="spacingAndGlyphs">Ø</text>
<text x="502" y="317.60" font-size="7.58" fill="#333" font-family="Liberation Mono" font-weight="normal" textLength="14.30" lengthAdjust="spacingAndGlyphs">3O.2</text>
<line x1="501.5" y1="318.8" x2="517.5" y2="318.8" stroke="#1e1e1e" stroke-width="0.9" />
<text x="502" y="325.70" font-size="7.58" fill="#333" font-family="Liberation Mono" font-weight="normal" textLength="14.30" lengthAdjust="spacingAndGlyphs">1.19</text>
<line x1="488.6" y1="298.5" x2="488.6" y2="308" stroke="#1e1e1e" stroke-width="0.8" />
<polygon points="488.6,311.4 487.4,307.9 489.8,307.9" fill="#1e1e1e" stroke="none" stroke-width="0.9"/>
<line x1="488.6" y1="327" x2="488.6" y2="352.3" stroke="#1e1e1e" stroke-width="0.8" />
<polygon points="488.6,323.6 489.8,327.1 487.4,327.1" fill="#1e1e1e" stroke="none" stroke-width="0.9"/>
<line x1="488.6" y1="352.3" x2="493.3" y2="352.3" stroke="#1e1e1e" stroke-width="0.8" />
<text x="494.5" y="354.70" font-size="7.27" fill="#333" font-family="Liberation Mono" font-weight="normal" textLength="5.50" lengthAdjust="spacingAndGlyphs">Ø</text>
<text x="502" y="350.40" font-size="7.58" fill="#333" font-family="Liberation Mono" font-weight="normal" textLength="14.30" lengthAdjust="spacingAndGlyphs">15.9</text>
<line x1="501.5" y1="351.5" x2="518" y2="351.5" stroke="#1e1e1e" stroke-width="0.9" />
<text x="503" y="359.30" font-size="7.58" fill="#333" font-family="Liberation Mono" font-weight="normal" textLength="11.00" lengthAdjust="spacingAndGlyphs">.63</text>
<polygon points="449.5,332.5 453.5,331.1 453.5,333.9" fill="#1e1e1e" stroke="none" stroke-width="0.9"/>
<polygon points="476.2,332.5 472.2,333.9 472.2,331.1" fill="#1e1e1e" stroke="none" stroke-width="0.9"/>
<line x1="449.5" y1="332.5" x2="458.0" y2="332.5" stroke="#555" stroke-width="0.75" />
<line x1="467.0" y1="332.5" x2="476.2" y2="332.5" stroke="#555" stroke-width="0.75" />
<text x="460.5" y="335.00" font-size="7.58" fill="#333" font-family="Liberation Mono" font-weight="normal" textLength="4.00" lengthAdjust="spacingAndGlyphs">A</text>
<polygon points="441.3,340 445.3,338.6 445.3,341.4" fill="#1e1e1e" stroke="none" stroke-width="0.9"/>
<polygon points="482,340 478.0,341.4 478.0,338.6" fill="#1e1e1e" stroke="none" stroke-width="0.9"/>
<line x1="441.3" y1="340" x2="450.55" y2="340" stroke="#555" stroke-width="0.75" />
<line x1="460.05" y1="340" x2="482" y2="340" stroke="#555" stroke-width="0.75" />
<text x="453.05" y="342.50" font-size="7.58" fill="#333" font-family="Liberation Mono" font-weight="normal" textLength="4.50" lengthAdjust="spacingAndGlyphs">B</text>
<polygon points="418.1,348 422.1,346.6 422.1,349.4" fill="#1e1e1e" stroke="none" stroke-width="0.9"/>
<polygon points="482,348 478.0,349.4 478.0,346.6" fill="#1e1e1e" stroke="none" stroke-width="0.9"/>
<line x1="418.1" y1="348" x2="444.25" y2="348" stroke="#555" stroke-width="0.75" />
<line x1="453.75" y1="348" x2="482" y2="348" stroke="#555" stroke-width="0.75" />
<text x="446.75" y="350.50" font-size="7.58" fill="#333" font-family="Liberation Mono" font-weight="normal" textLength="4.50" lengthAdjust="spacingAndGlyphs">C</text>
<polygon points="410.9,357.2 414.4,356.0 414.4,358.4" fill="#1e1e1e" stroke="none" stroke-width="0.9"/>
<polyline points="410.9,357.2 417.4,357.2 420,353.9 424,359.3 426,357.2 437.5,357.2" fill="none" stroke="#1e1e1e" stroke-width="0.8" />
<line x1="446.5" y1="357.2" x2="482" y2="357.2" stroke="#1e1e1e" stroke-width="0.8" />
<polygon points="482.1,357.2 478.6,358.4 478.6,356.0" fill="#1e1e1e" stroke="none" stroke-width="0.9"/>
<text x="439.65" y="359.50" font-size="7.58" fill="#333" font-family="Liberation Mono" font-weight="normal" textLength="4.50" lengthAdjust="spacingAndGlyphs">D</text>
<text x="155" y="408.50" font-size="7.58" fill="#333" font-family="Liberation Mono" font-weight="normal" textLength="137.00" lengthAdjust="spacingAndGlyphs">ALL RETRACTABLE SENSORS SHOWN WITH</text>
<text x="155" y="415.30" font-size="7.58" fill="#333" font-family="Liberation Mono" font-weight="normal" textLength="155.00" lengthAdjust="spacingAndGlyphs">RETRACTION ASSEMBLY KIT PN 23765-OO/O1</text>
<text x="155" y="422.00" font-size="7.58" fill="#333" font-family="Liberation Mono" font-weight="normal" textLength="90.00" lengthAdjust="spacingAndGlyphs">(PURCHASED SEPARATELY)</text>
<text x="271.7" y="428.50" font-size="7.58" fill="#333" font-family="Liberation Mono" font-weight="normal" textLength="41.60" lengthAdjust="spacingAndGlyphs">BALL VALVE</text>
<polyline points="314.5,425.8 320,425.8 329.3,471.5" fill="none" stroke="#1e1e1e" stroke-width="0.9" />
<polygon points="329.4,472 327.54,468.8 329.89,468.33" fill="#1e1e1e" stroke="none" stroke-width="0.9"/>
<path d="M80.4,477.9 L102.7,477.9 L102.7,541.5 L80.4,541.5 L80.4,535 L82.5,535 L82.5,531.8 L80.4,531.8 L80.4,514.4 L84.5,514.4 L84.5,505.6 L80.4,505.6 L80.4,483 L82.5,483 L82.5,480 L80.4,480 Z" fill="none" stroke="#1e1e1e" stroke-width="1.0" />
<path d="M102.7,478.5 Q102.7,477.2 104,477.2 L117.5,477.2 Q119,477.2 119,478.7 L119,539 Q119,540.8 117.3,540.8 L102.7,540.8" fill="none" stroke="#1e1e1e" stroke-width="1.0" />
<line x1="104.3" y1="478" x2="104.3" y2="540.5" stroke="#1e1e1e" stroke-width="0.6" />
<path d="M104.5,537 L117,537 L117,539" fill="none" stroke="#1e1e1e" stroke-width="0.6" />
<circle cx="111.3" cy="533.8" r="0.7" fill="#222"/>
<path d="M106.4,541.5 L106.4,554.6 L131.2,554.6 L131.2,538.8 L122.5,519.1 L119.7,519.1 L119.7,522" fill="none" stroke="#1e1e1e" stroke-width="1.0" />
<line x1="119" y1="523.5" x2="129.5" y2="541.5" stroke="#1e1e1e" stroke-width="0.6" />
<text x="134.6" y="546.80" font-size="7.58" fill="#333" font-family="Liberation Mono" font-weight="normal" textLength="48.90" lengthAdjust="spacingAndGlyphs">JUNCTION BOX</text>
<rect x="119" y="481.9" width="18.6" height="20.3" fill="none" stroke="#1e1e1e" stroke-width="0.8"/>
<line x1="119" y1="491.4" x2="137.6" y2="491.4" stroke="#777" stroke-width="0.5" />
<rect x="137.6" y="484" width="3.7" height="17.3" fill="#8a8a8a" stroke="#1e1e1e" stroke-width="0.8"/>
<rect x="141.3" y="484.2" width="55.0" height="16.2" fill="none" stroke="#1e1e1e" stroke-width="0.8"/>
<rect x="196.3" y="476.3" width="23.7" height="31.7" fill="url(#kn)" stroke="#1e1e1e" stroke-width="0.9"/>
<rect x="220" y="479.2" width="3" height="26.3" fill="#9a9a9a" stroke="#777" stroke-width="0.5"/>
<path d="M223,480.7 Q223,479.2 224.5,479.2 L248.5,479.2 L248.5,481 L262,481 L262,479.2 L266,479.2 Q267.5,479.2 267.5,480.7 L267.5,504 Q267.5,505.5 266,505.5 L262,505.5 L262,503.7 L248.5,503.7 L248.5,505.5 L224.5,505.5 Q223,505.5 223,504 Z" fill="none" stroke="#1e1e1e" stroke-width="0.9" />
<rect x="267.5" y="480" width="5.8" height="24" fill="url(#th)" stroke="#1e1e1e" stroke-width="0.9"/>
<rect x="273.3" y="473.7" width="11.60" height="37.30" rx="1.8" fill="#fff" stroke="#1e1e1e" stroke-width="0.9"/>
<rect x="324" y="473.7" width="12.30" height="37.30" rx="1.8" fill="#fff" stroke="#1e1e1e" stroke-width="0.9"/>
<line x1="273.8" y1="483" x2="284.9" y2="483" stroke="#1e1e1e" stroke-width="0.6" />
<line x1="273.8" y1="501" x2="284.9" y2="501" stroke="#1e1e1e" stroke-width="0.6" />
<line x1="324" y1="483" x2="335.8" y2="483" stroke="#1e1e1e" stroke-width="0.6" />
<line x1="324" y1="501" x2="335.8" y2="501" stroke="#1e1e1e" stroke-width="0.6" />
<rect x="284.9" y="471.9" width="39.10" height="40.90" rx="1.2" fill="#fff" stroke="#1e1e1e" stroke-width="0.9"/>
<line x1="320.5" y1="471.9" x2="320.5" y2="512.8" stroke="#1e1e1e" stroke-width="1.3" />
<path d="M286.7,471.9 L286.7,478.1 Q289.0,481.3 291.3,478.1 L291.3,471.9" fill="none" stroke="#1e1e1e" stroke-width="0.7" />
<path d="M296.6,471.9 Q304.20000000000005,476.7 311.8,471.9" fill="none" stroke="#1e1e1e" stroke-width="0.7" />
<line x1="292.5" y1="464.9" x2="292.5" y2="471.9" stroke="#1e1e1e" stroke-width="0.9" />
<line x1="316.4" y1="463.8" x2="316.4" y2="471.9" stroke="#1e1e1e" stroke-width="0.9" />
<path d="M296,463.8 L296,459.7 L315.5,459.7 Q317,459.7 317,461.2 L317,463.8 Z" fill="none" stroke="#1e1e1e" stroke-width="0.9" />
<line x1="298" y1="461.75" x2="316" y2="461.75" stroke="#1e1e1e" stroke-width="0.5" />
<rect x="298.9" y="452.1" width="12.3" height="5.2" fill="none" stroke="#1e1e1e" stroke-width="0.9"/>
<line x1="301.6333333333333" y1="452.1" x2="301.6333333333333" y2="457.3" stroke="#1e1e1e" stroke-width="0.6" />
<line x1="308.46666666666664" y1="452.1" x2="308.46666666666664" y2="457.3" stroke="#1e1e1e" stroke-width="0.6" />
<rect x="301.6333333333333" y="452.1" width="6.83" height="2.08" fill="#333" stroke="#1e1e1e" stroke-width="0.5"/>
<rect x="297.7" y="464.8" width="3.5" height="3.5" fill="none" stroke="#1e1e1e" stroke-width="0.6"/>
<rect x="336.3" y="479.5" width="18.4" height="24.5" fill="url(#th)" stroke="#1e1e1e" stroke-width="0.9"/>
<path d="M358.2,483.1 L372.2,483.1 L372.2,484.3 L378.6,484.3 L378.6,500 L372.2,500 L372.2,501.2 L358.2,501.2 Q355.5,501.2 355.5,498.5 L355.5,485.8 Q355.5,483.1 358.2,483.1 Z" fill="none" stroke="#1e1e1e" stroke-width="0.9" />
<line x1="359.3" y1="483.1" x2="359.3" y2="501.2" stroke="#1e1e1e" stroke-width="0.6" />
<rect x="354.7" y="485" width="0.8" height="14.5" fill="none" stroke="#1e1e1e" stroke-width="0.6"/>
<rect x="378.6" y="487.2" width="31.5" height="9.9" fill="none" stroke="#1e1e1e" stroke-width="0.9"/>
<circle cx="384.4" cy="492.2" r="1.5" fill="none" stroke="#1e1e1e" stroke-width="0.8"/>
<line x1="372.2" y1="483.1" x2="470" y2="483.1" stroke="#1e1e1e" stroke-width="0.8" />
<line x1="378.6" y1="501.2" x2="470" y2="501.2" stroke="#1e1e1e" stroke-width="0.8" />
<line x1="410.1" y1="487.2" x2="431.5" y2="487.2" stroke="#1e1e1e" stroke-width="0.7" />
<line x1="410.1" y1="497.1" x2="431.5" y2="497.1" stroke="#1e1e1e" stroke-width="0.7" />
<line x1="119" y1="491.9" x2="410" y2="491.9" stroke="#555" stroke-width="0.5" stroke-dasharray="8,2,2,2"/>
<path d="M199.8,443.4 L203.5,441.3 L268,441.3 L268,445.6 L203.5,445.6 Z" fill="none" stroke="#1e1e1e" stroke-width="0.9" />
<polyline points="268,442.3 278.8,442.3 295,457.8" fill="none" stroke="#1e1e1e" stroke-width="0.8" />
<polyline points="268,444.6 277.8,444.6 293.5,459.3" fill="none" stroke="#1e1e1e" stroke-width="0.8" />
<path d="M282.3,450.4 L284.7,447.6 L295.9,457.3 L293.5,460.1 Z" fill="#fff" stroke="#1e1e1e" stroke-width="0.9" />
<line x1="228.6" y1="446.5" x2="228.6" y2="455" stroke="#1e1e1e" stroke-width="0.8" />
<polygon points="228.6,445.8 229.8,449.3 227.4,449.3" fill="#1e1e1e" stroke="none" stroke-width="0.9"/>
<text x="220.3" y="463.65" font-size="6.82" fill="#333" font-family="Liberation Mono" font-weight="normal" textLength="15.70" lengthAdjust="spacingAndGlyphs">76.2</text>
<line x1="220.3" y1="465" x2="237" y2="465" stroke="#444" stroke-width="0.7" />
<text x="222" y="471.05" font-size="6.82" fill="#333" font-family="Liberation Mono" font-weight="normal" textLength="12.00" lengthAdjust="spacingAndGlyphs">3.O</text>
<line x1="228.6" y1="472" x2="228.6" y2="491" stroke="#1e1e1e" stroke-width="0.8" />
<polygon points="228.6,491.3 227.4,487.8 229.8,487.8" fill="#1e1e1e" stroke="none" stroke-width="0.9"/>
<text x="340" y="452.00" font-size="7.58" fill="#333" font-family="Liberation Mono" font-weight="normal" textLength="80.80" lengthAdjust="spacingAndGlyphs">1¼ -11½ INCHES NPT</text>
<polyline points="339.3,450 334.2,450 345.3,477" fill="none" stroke="#1e1e1e" stroke-width="0.9" />
<polygon points="345.4,478 343.24,474.99 345.54,474.3" fill="#1e1e1e" stroke="none" stroke-width="0.9"/>
<text x="402.5" y="461.60" font-size="7.58" fill="#333" font-family="Liberation Mono" font-weight="normal" textLength="29.10" lengthAdjust="spacingAndGlyphs">3×Ø.25</text>
<text x="402.5" y="467.90" font-size="7.58" fill="#333" font-family="Liberation Mono" font-weight="normal" textLength="59.10" lengthAdjust="spacingAndGlyphs">EQUALLY SPACED</text>
<polyline points="401.5,459.1 399.5,459.1 385.2,490.5" fill="none" stroke="#1e1e1e" stroke-width="0.9" />
<line x1="434.6" y1="472" x2="434.6" y2="484" stroke="#1e1e1e" stroke-width="0.8" />
<polygon points="434.6,487.1 433.4,483.6 435.8,483.6" fill="#1e1e1e" stroke="none" stroke-width="0.9"/>
<line x1="434.6" y1="500.3" x2="434.6" y2="527.5" stroke="#1e1e1e" stroke-width="0.8" />
<polygon points="434.6,497.2 435.8,500.7 433.4,500.7" fill="#1e1e1e" stroke="none" stroke-width="0.9"/>
<line x1="434.6" y1="527.5" x2="438.5" y2="527.5" stroke="#1e1e1e" stroke-width="0.8" />
<text x="439.5" y="529.90" font-size="7.27" fill="#333" font-family="Liberation Mono" font-weight="normal" textLength="5.50" lengthAdjust="spacingAndGlyphs">Ø</text>
<text x="448" y="527.00" font-size="7.58" fill="#333" font-family="Liberation Mono" font-weight="normal" textLength="15.00" lengthAdjust="spacingAndGlyphs">15.9</text>
<line x1="446" y1="528.3" x2="470" y2="528.3" stroke="#1e1e1e" stroke-width="0.9" />
<text x="452" y="534.10" font-size="7.58" fill="#333" font-family="Liberation Mono" font-weight="normal" textLength="10.00" lengthAdjust="spacingAndGlyphs">.63</text>
<line x1="466.4" y1="469" x2="466.4" y2="479.5" stroke="#1e1e1e" stroke-width="0.8" />
<polygon points="466.4,482.9 465.2,479.4 467.6,479.4" fill="#1e1e1e" stroke="none" stroke-width="0.9"/>
<line x1="466.4" y1="504.5" x2="466.4" y2="517" stroke="#1e1e1e" stroke-width="0.8" />
<polygon points="466.4,501.4 467.6,504.9 465.2,504.9" fill="#1e1e1e" stroke="none" stroke-width="0.9"/>
<text x="451" y="494.90" font-size="7.27" fill="#333" font-family="Liberation Mono" font-weight="normal" textLength="5.50" lengthAdjust="spacingAndGlyphs">Ø</text>
<text x="458" y="491.00" font-size="7.58" fill="#333" font-family="Liberation Mono" font-weight="normal" textLength="16.50" lengthAdjust="spacingAndGlyphs">3O.2</text>
<line x1="457.5" y1="492.8" x2="475" y2="492.8" stroke="#1e1e1e" stroke-width="0.9" />
<text x="458" y="500.00" font-size="7.58" fill="#333" font-family="Liberation Mono" font-weight="normal" textLength="16.50" lengthAdjust="spacingAndGlyphs">1.19</text>
<line x1="410.1" y1="497.1" x2="410.1" y2="567" stroke="#1e1e1e" stroke-width="0.8" />
<line x1="384.4" y1="493.7" x2="384.4" y2="519.5" stroke="#1e1e1e" stroke-width="0.7" />
<line x1="378.6" y1="501.2" x2="378.6" y2="533" stroke="#1e1e1e" stroke-width="0.7" />
<line x1="354.7" y1="504" x2="354.7" y2="551" stroke="#1e1e1e" stroke-width="0.7" />
<line x1="80.8" y1="541.5" x2="80.8" y2="568.5" stroke="#1e1e1e" stroke-width="0.7" />
<polygon points="384.7,517 388.7,515.6 388.7,518.4" fill="#1e1e1e" stroke="none" stroke-width="0.9"/>
<polygon points="409.8,517 405.8,518.4 405.8,515.6" fill="#1e1e1e" stroke="none" stroke-width="0.9"/>
<line x1="384.7" y1="517" x2="392.3" y2="517" stroke="#555" stroke-width="0.75" />
<line x1="401.3" y1="517" x2="409.8" y2="517" stroke="#555" stroke-width="0.75" />
<text x="394.8" y="519.50" font-size="7.58" fill="#333" font-family="Liberation Mono" font-weight="normal" textLength="4.00" lengthAdjust="spacingAndGlyphs">A</text>
<polygon points="378.9,530.5 382.9,529.1 382.9,531.9" fill="#1e1e1e" stroke="none" stroke-width="0.9"/>
<polygon points="409.8,530.5 405.8,531.9 405.8,529.1" fill="#1e1e1e" stroke="none" stroke-width="0.9"/>
<line x1="378.9" y1="530.5" x2="388.75" y2="530.5" stroke="#555" stroke-width="0.75" />
<line x1="398.25" y1="530.5" x2="409.8" y2="530.5" stroke="#555" stroke-width="0.75" />
<text x="391.25" y="533.00" font-size="7.58" fill="#333" font-family="Liberation Mono" font-weight="normal" textLength="4.50" lengthAdjust="spacingAndGlyphs">B</text>
<polygon points="355,548.5 359.0,547.1 359.0,549.9" fill="#1e1e1e" stroke="none" stroke-width="0.9"/>
<polygon points="409.8,548.5 405.8,549.9 405.8,547.1" fill="#1e1e1e" stroke="none" stroke-width="0.9"/>
<line x1="355" y1="548.5" x2="379.75" y2="548.5" stroke="#555" stroke-width="0.75" />
<line x1="389.25" y1="548.5" x2="409.8" y2="548.5" stroke="#555" stroke-width="0.75" />
<text x="382.25" y="551.00" font-size="7.58" fill="#333" font-family="Liberation Mono" font-weight="normal" textLength="4.50" lengthAdjust="spacingAndGlyphs">C</text>
<polygon points="81.1,566.3 85.1,564.9 85.1,567.7" fill="#1e1e1e" stroke="none" stroke-width="0.9"/>
<polygon points="409.8,566.3 405.8,567.7 405.8,564.9" fill="#1e1e1e" stroke="none" stroke-width="0.9"/>
<line x1="81.1" y1="566.3" x2="287.05" y2="566.3" stroke="#8a8a8a" stroke-width="0.75" />
<line x1="296.55" y1="566.3" x2="409.8" y2="566.3" stroke="#8a8a8a" stroke-width="0.75" />
<text x="289.55" y="568.80" font-size="7.58" fill="#333" font-family="Liberation Mono" font-weight="normal" textLength="4.50" lengthAdjust="spacingAndGlyphs">D</text>
<text x="420" y="548.40" font-size="7.88" fill="#333" font-family="Liberation Mono" font-weight="normal" textLength="50.80" lengthAdjust="spacingAndGlyphs">MODELS 4O2-</text>
<text x="474.2" y="548.10" font-size="6.97" fill="#222" font-family="Liberation Sans" font-weight="normal" textLength="24.10" lengthAdjust="spacingAndGlyphs">11/12/13</text>
<text x="420" y="554.30" font-size="7.88" fill="#333" font-family="Liberation Mono" font-weight="normal" textLength="50.00" lengthAdjust="spacingAndGlyphs">REQUIRE KIT</text>
<text x="420" y="560.10" font-size="7.88" fill="#333" font-family="Liberation Mono" font-weight="normal" textLength="50.80" lengthAdjust="spacingAndGlyphs">PN 23765-OO</text>
<line x1="64" y1="576.3" x2="500" y2="576.3" stroke="#777" stroke-width="0.85" stroke-dasharray="7,2.3"/>
</svg>
</body></html>
